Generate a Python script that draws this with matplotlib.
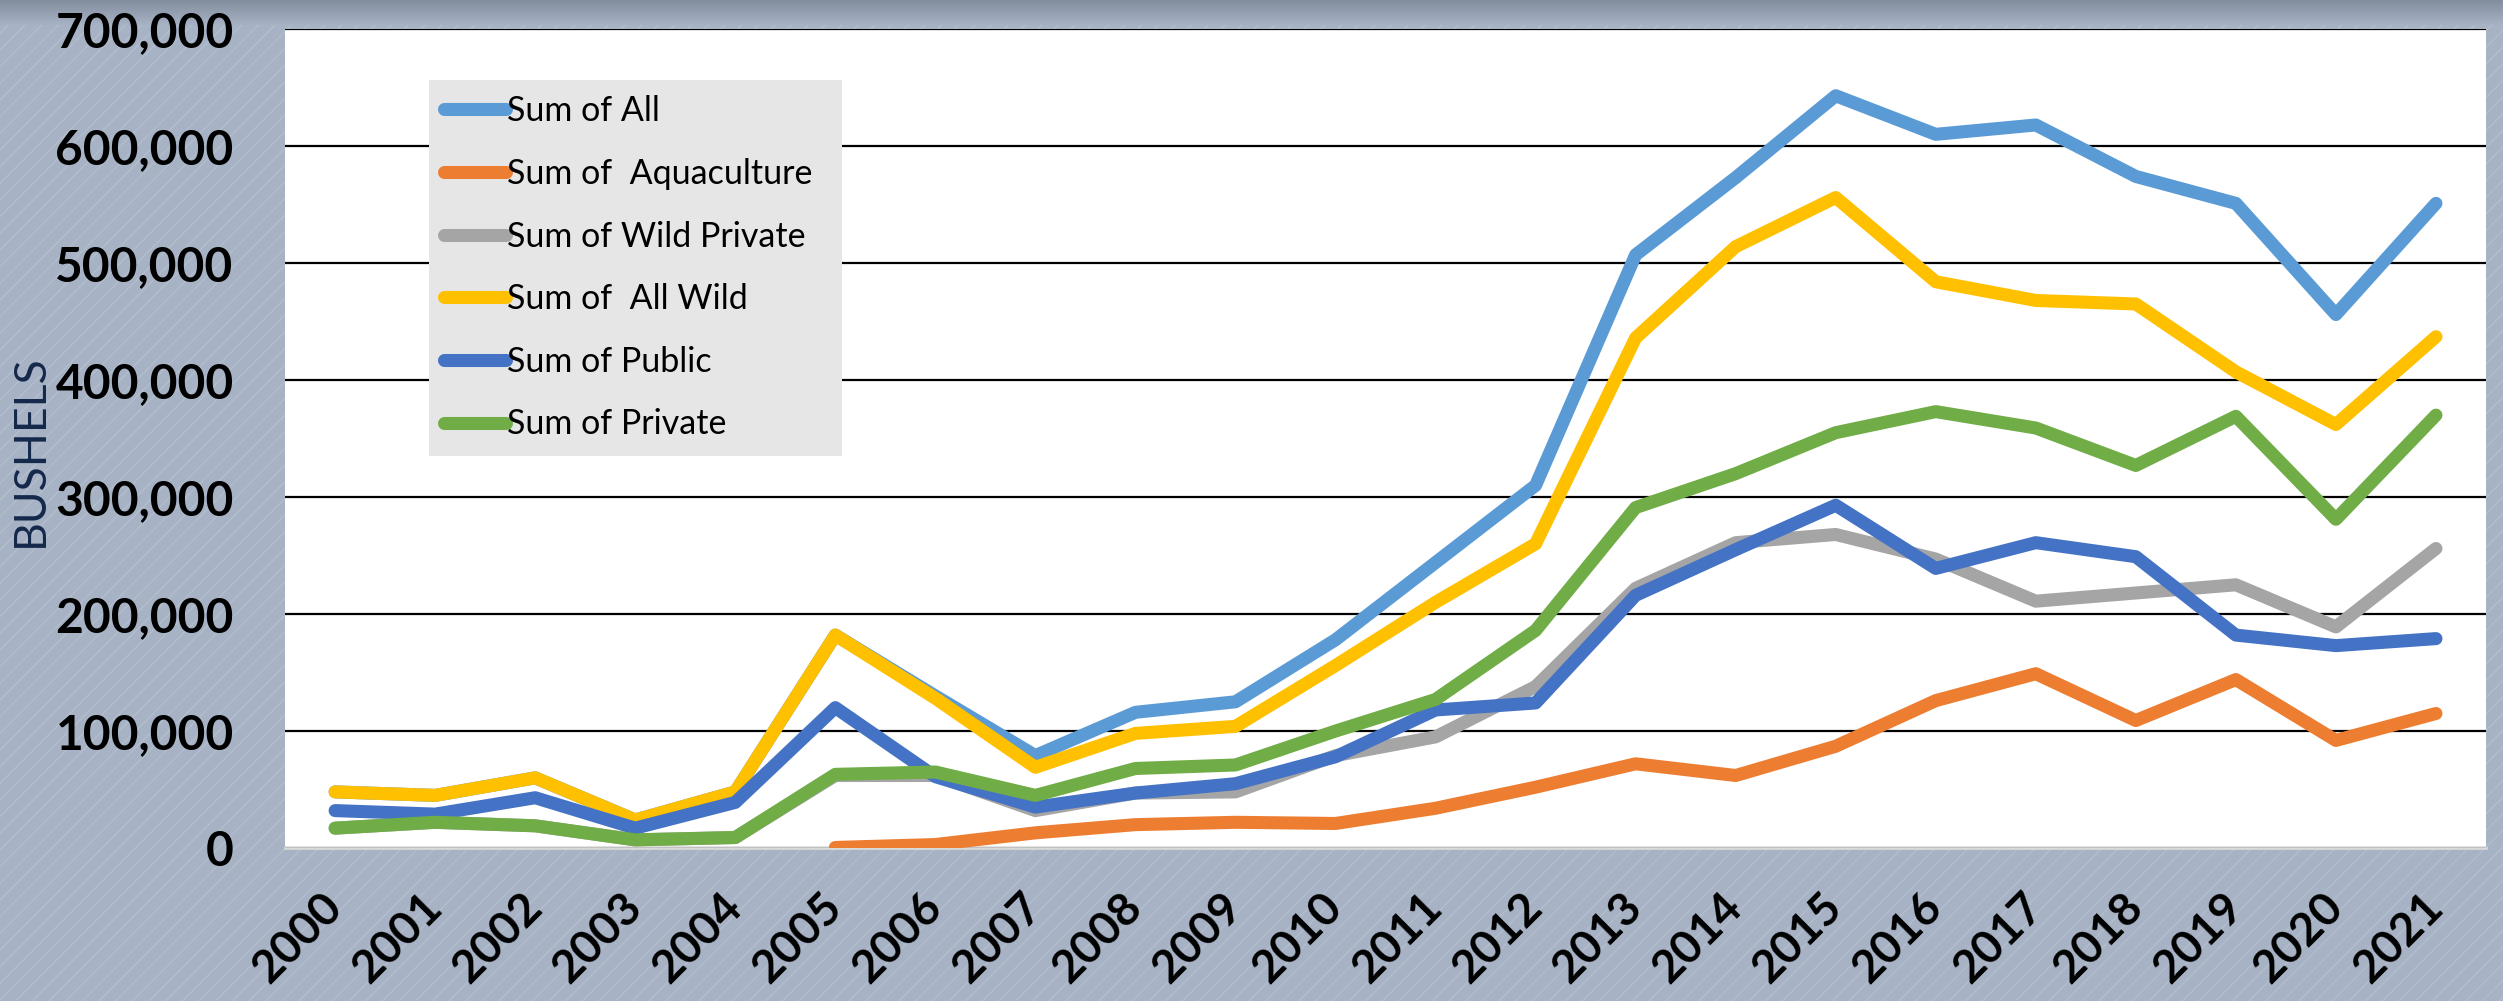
import numpy as np
import matplotlib.pyplot as plt
from matplotlib.patches import Rectangle
from matplotlib.ticker import FuncFormatter

plt.rcParams['font.family'] = ['Lato', 'DejaVu Sans']

# --- data (bushels) ---
years = [str(y) for y in range(2000, 2022)]

sum_all = [48000, 45000, 60000, 24000, 48000, 182000, 130000, 79000, 116000, 125000, 178000,
           244000, 310000, 507000, 573000, 643000, 610000, 618000, 574000, 551000, 456000, 551000]
sum_aquaculture = [np.nan, np.nan, np.nan, np.nan, np.nan, 500, 3000, 13000, 20000, 22000, 21000,
                   34000, 52000, 72000, 62000, 87000, 126000, 149000, 109000, 144000, 92000, 115000]
sum_wild_private = [17000, 22000, 19000, 7000, 9000, 62000, 62000, 32000, 47000, 48000, 79000,
                    95000, 138000, 222000, 261000, 268000, 247000, 211000, 218000, 225000, 189000, 256000]
sum_all_wild = [48000, 45000, 60000, 24000, 48000, 182000, 128000, 69000, 98000, 104000, 156000,
                210000, 260000, 436000, 514000, 556000, 484000, 468000, 465000, 407000, 362000, 437000]
sum_public = [32000, 29000, 43000, 17000, 39000, 120000, 61000, 35000, 47000, 55000, 78000,
              118000, 124000, 216000, 255000, 293000, 239000, 261000, 249000, 182000, 173000, 179000]
sum_private = [17000, 22000, 19000, 7000, 9000, 63000, 65000, 45000, 68000, 71000, 100000,
               127000, 186000, 291000, 320000, 355000, 373000, 359000, 327000, 369000, 281000, 370000]

series = [sum_all, sum_aquaculture, sum_wild_private, sum_all_wild, sum_public, sum_private]
labels = ['Sum of All', 'Sum of  Aquaculture', 'Sum of Wild Private',
          'Sum of  All Wild', 'Sum of Public', 'Sum of Private']
colors = ['#5B9BD5', '#ED7D31', '#A5A5A5', '#FFC000', '#4472C4', '#70AD47']

fig = plt.figure(figsize=(25.03, 10.01), dpi=100)
bg = '#A7B3C5'
fig.patch.set_facecolor(bg)

# striped backdrop
fig.add_artist(Rectangle((0, 0), 1, 1, transform=fig.transFigure, facecolor=bg,
                         edgecolor='#B2BDCD', hatch='//', linewidth=0, zorder=-10))

# darker band along the top edge
top = fig.add_axes([0, 0.975, 1, 0.025], zorder=-5)
grad = np.linspace(0, 1, 50).reshape(-1, 1)
top.imshow(grad, aspect='auto', cmap=plt.matplotlib.colors.LinearSegmentedColormap.from_list(
    'band', ['#808B9C', bg]), extent=[0, 1, 0, 1])
top.set_axis_off()

ax = fig.add_axes([0.1139, 0.1528, 0.8793, 0.8182])
ax.set_facecolor('white')

x = np.arange(len(years))
for vals, lab, col in zip(series, labels, colors):
    ax.plot(x, vals, color=col, lw=9.4, label=lab, solid_capstyle='round',
            solid_joinstyle='round', zorder=3)

ax.set_xlim(-0.5, len(years) - 0.5)
ax.set_ylim(0, 700000)
ax.set_yticks(np.arange(0, 700001, 100000))
ax.yaxis.set_major_formatter(FuncFormatter(lambda v, p: f'{int(v):,}'))
ax.grid(axis='y', color='black', lw=1.6, zorder=1)
ax.set_axisbelow(True)

for s in ['top', 'left', 'right']:
    ax.spines[s].set_visible(False)
ax.spines['bottom'].set_color('#D9D9D9')
ax.spines['bottom'].set_linewidth(2)

ax.set_xticks(x, years)
ax.tick_params(axis='y', length=0, pad=37, labelsize=34.5)
ax.tick_params(axis='x', length=0, pad=38, labelsize=33)
for t in ax.get_yticklabels():
    t.set_fontweight('bold')
for t in ax.get_xticklabels():
    t.set_fontweight('bold')
    t.set_rotation(45)
    t.set_ha('right')
    t.set_va('center')
    t.set_rotation_mode('anchor')

fig.text(0.012, 0.55, 'BUSHELS', rotation=90, ha='center', va='center',
         fontsize=32, color='#14284B')

leg = ax.legend(loc='upper left', bbox_to_anchor=(0.0654, 0.4896, 0.1876, 0.4481),
                mode='expand', borderaxespad=0, fontsize=24.5, handlelength=1.8,
                handletextpad=0.05, labelspacing=0.9, borderpad=0.45,
                fancybox=False, framealpha=1, facecolor='#E6E6E6')
leg.get_frame().set_linewidth(0)

plt.savefig('out.png', dpi=100, facecolor=fig.get_facecolor())
